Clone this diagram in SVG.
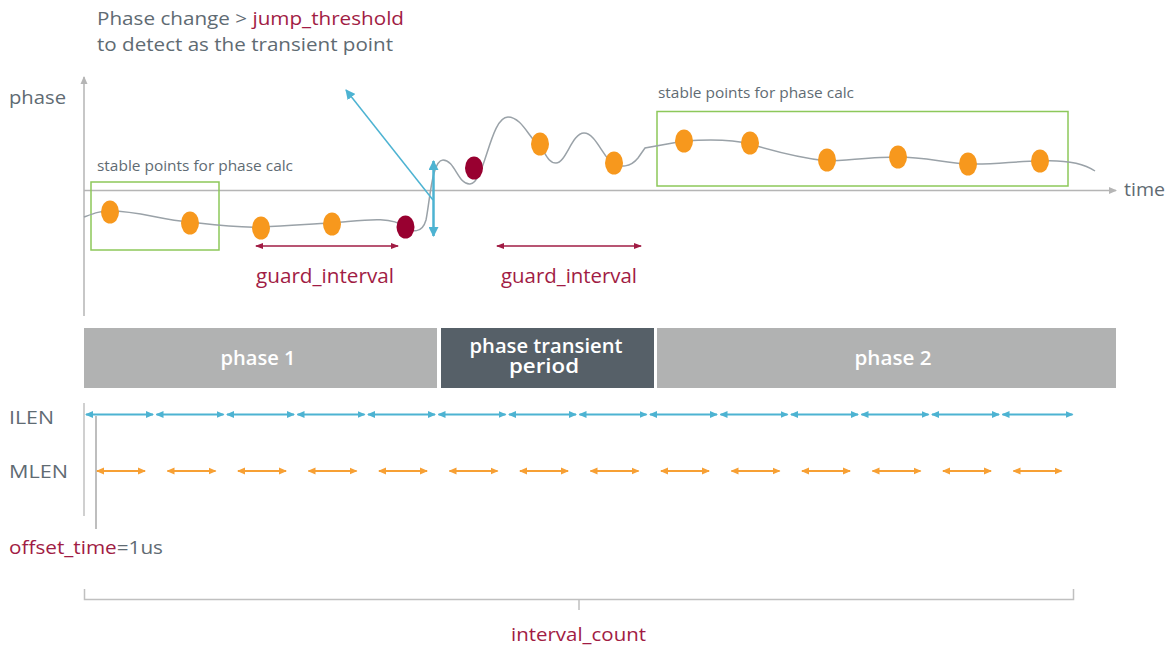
<svg xmlns="http://www.w3.org/2000/svg" width="1172" height="647" viewBox="0 0 1172 647">
<style>
text{font-family:"Open Sans",Lato,"Noto Sans","DejaVu Sans",sans-serif;}
.g{fill:#5f6b73;}
.r{fill:#a11c44;}
.bar{font-weight:600;fill:#fff;font-size:19px;text-anchor:middle;}
.ax{stroke:#b5b5b5;stroke-width:1.5;fill:none;}
.dot{fill:#f7981d;}
.dred{fill:#980030;}
.box{fill:none;stroke:#8dc85a;stroke-width:1.5;}
.il{stroke:#4db3d2;stroke-width:2;marker-start:url(#ac);marker-end:url(#ac);}
.ml{stroke:#f7a034;stroke-width:2;marker-start:url(#ao);marker-end:url(#ao);}
.gi{stroke:#a11c44;stroke-width:1.5;marker-start:url(#ar);marker-end:url(#ar);}
</style>
<defs>
<marker id="ag" markerWidth="8" markerHeight="8" refX="7" refY="4" orient="auto" markerUnits="userSpaceOnUse"><path d="M0,0.5 L8,4 L0,7.5 Z" fill="#b5b5b5"/></marker>
<marker id="ac" markerWidth="8" markerHeight="8" refX="7" refY="4" orient="auto-start-reverse" markerUnits="userSpaceOnUse"><path d="M0,0.5 L8,4 L0,7.5 Z" fill="#4db3d2"/></marker>
<marker id="acb" markerWidth="10" markerHeight="10" refX="9" refY="5" orient="auto-start-reverse" markerUnits="userSpaceOnUse"><path d="M0,0 L10,5 L0,10 Z" fill="#4db3d2"/></marker>
<marker id="ao" markerWidth="8" markerHeight="8" refX="7" refY="4" orient="auto-start-reverse" markerUnits="userSpaceOnUse"><path d="M0,0.5 L8,4 L0,7.5 Z" fill="#f7a034"/></marker>
<marker id="ar" markerWidth="8" markerHeight="8" refX="7" refY="4" orient="auto-start-reverse" markerUnits="userSpaceOnUse"><path d="M0,1 L8,4 L0,7 Z" fill="#a11c44"/></marker>
</defs>

<g id="title">
<text x="97" y="25" font-size="19" class="g" textLength="307" lengthAdjust="spacingAndGlyphs">Phase change &gt; <tspan class="r">jump_threshold</tspan></text>
<text x="97" y="51" font-size="19" class="g" textLength="296" lengthAdjust="spacingAndGlyphs">to detect as the transient point</text>
</g>

<g id="axes">
<line class="ax" x1="84" y1="316" x2="84" y2="77" marker-end="url(#ag)"/>
<line class="ax" x1="84" y1="190.5" x2="1116" y2="190.5" marker-end="url(#ag)"/>
<text x="9" y="104" font-size="18" class="g" textLength="57" lengthAdjust="spacingAndGlyphs">phase</text>
<text x="1124" y="196" font-size="18" class="g" textLength="41" lengthAdjust="spacingAndGlyphs">time</text>
</g>

<g id="stable-left">
<rect class="box" x="91" y="182" width="128" height="68"/>
<text x="97" y="171" font-size="14" class="g" textLength="196" lengthAdjust="spacingAndGlyphs">stable points for phase calc</text>
</g>
<g id="stable-right">
<rect class="box" x="657" y="111.5" width="411" height="74.5"/>
<text x="658" y="98" font-size="14" class="g" textLength="196" lengthAdjust="spacingAndGlyphs">stable points for phase calc</text>
</g>

<g id="curve">
<path fill="none" stroke="#9aa2a8" stroke-width="1.5" d="M84,217 C95,213 100,211 110,211 C140,211 160,220 190,222 C215,225 235,228 261,227 C290,226 310,224 332,223 C360,221 390,215 405,227 C412,232 422,234 426,220 C430,200 432,160 443,160 C455,160 458,185 470,184 C485,183 490,117 508,117 C522,117 530,140 540,146 C545,152 548,163 556,163 C566,163 572,133 584,133 C596,133 604,160 614,164 C620,167 630,168 638,158 L645,148 L684,141 C710,139 735,140 750,144 C770,150 800,158 827,161 C850,160 875,157 898,157 C925,157 945,163 968,164 C995,165 1015,161 1040,161 C1060,160 1080,161 1095,171"/>
</g>

<g id="dots">
<ellipse class="dot" cx="110" cy="212" rx="9" ry="11.5"/>
<ellipse class="dot" cx="190" cy="223" rx="9" ry="11.5"/>
<ellipse class="dot" cx="261" cy="228" rx="9" ry="11.5"/>
<ellipse class="dot" cx="332" cy="224" rx="9" ry="11.5"/>
<ellipse class="dred" cx="405.5" cy="227" rx="9" ry="11.5"/>
<ellipse class="dred" cx="474" cy="168" rx="9" ry="11.5"/>
<ellipse class="dot" cx="540" cy="144" rx="9" ry="11.5"/>
<ellipse class="dot" cx="614" cy="163" rx="9" ry="11.5"/>
<ellipse class="dot" cx="684" cy="141" rx="9" ry="11.5"/>
<ellipse class="dot" cx="750" cy="143" rx="9" ry="11.5"/>
<ellipse class="dot" cx="827" cy="160" rx="9" ry="11.5"/>
<ellipse class="dot" cx="898" cy="157" rx="9" ry="11.5"/>
<ellipse class="dot" cx="968" cy="164" rx="9" ry="11.5"/>
<ellipse class="dot" cx="1040" cy="161" rx="9" ry="11.5"/>
</g>

<g id="jump">
<line x1="433" y1="200" x2="346" y2="90" stroke="#4db3d2" stroke-width="1.5" marker-end="url(#acb)"/>
<line x1="433.5" y1="236" x2="433.5" y2="161" stroke="#4db3d2" stroke-width="2.5" marker-start="url(#acb)" marker-end="url(#acb)"/>
</g>

<g id="guard">
<line class="gi" x1="256" y1="246" x2="398" y2="246"/>
<text x="256" y="283" font-size="20" class="r" textLength="138" lengthAdjust="spacingAndGlyphs">guard_interval</text>
<line class="gi" x1="497" y1="246" x2="641" y2="246"/>
<text x="501" y="283" font-size="20" class="r" textLength="136" lengthAdjust="spacingAndGlyphs">guard_interval</text>
</g>

<g id="phase1"><rect x="84" y="328" width="353" height="60" fill="#b1b2b2"/><text class="bar" x="258" y="365" textLength="75" lengthAdjust="spacingAndGlyphs">phase 1</text></g>
<g id="transient"><rect x="441" y="328" width="213" height="60" fill="#566068"/><text class="bar" x="546" y="353" font-size="18" textLength="153" lengthAdjust="spacingAndGlyphs">phase transient</text><text class="bar" x="544" y="373" font-size="18" textLength="70" lengthAdjust="spacingAndGlyphs">period</text></g>
<g id="phase2"><rect x="657" y="328" width="459" height="60" fill="#b1b2b2"/><text class="bar" x="893" y="365" textLength="77" lengthAdjust="spacingAndGlyphs">phase 2</text></g>

<g id="labels">
<text x="9" y="424" font-size="18" class="g" textLength="45" lengthAdjust="spacingAndGlyphs">ILEN</text>
<text x="9" y="478" font-size="18" class="g" textLength="59" lengthAdjust="spacingAndGlyphs">MLEN</text>
<text x="9" y="554" font-size="18" textLength="154" lengthAdjust="spacingAndGlyphs"><tspan class="r">offset_time</tspan><tspan class="g">=1us</tspan></text>
<text x="511" y="641" font-size="18" class="r" textLength="135" lengthAdjust="spacingAndGlyphs">interval_count</text>
</g>

<g id="connectors">
<line x1="84" y1="403" x2="84" y2="516" stroke="#c0c0c0" stroke-width="1.5"/>
<line x1="96" y1="416" x2="96" y2="529" stroke="#a8a8a8" stroke-width="1.5"/>
<line class="il" x1="86" y1="414.5" x2="153" y2="414.5"/>
<line class="il" x1="156.5" y1="414.5" x2="223.5" y2="414.5"/>
<line class="il" x1="227" y1="414.5" x2="294" y2="414.5"/>
<line class="il" x1="297.5" y1="414.5" x2="364.5" y2="414.5"/>
<line class="il" x1="368" y1="414.5" x2="435" y2="414.5"/>
<line class="il" x1="438.5" y1="414.5" x2="505.5" y2="414.5"/>
<line class="il" x1="509" y1="414.5" x2="576" y2="414.5"/>
<line class="il" x1="579.5" y1="414.5" x2="646.5" y2="414.5"/>
<line class="il" x1="650" y1="414.5" x2="717" y2="414.5"/>
<line class="il" x1="720.5" y1="414.5" x2="787.5" y2="414.5"/>
<line class="il" x1="791" y1="414.5" x2="858" y2="414.5"/>
<line class="il" x1="861.5" y1="414.5" x2="928.5" y2="414.5"/>
<line class="il" x1="932" y1="414.5" x2="999" y2="414.5"/>
<line class="il" x1="1002.5" y1="414.5" x2="1072.5" y2="414.5"/>
<line class="ml" x1="97" y1="471" x2="145" y2="471"/>
<line class="ml" x1="167.5" y1="471" x2="215.5" y2="471"/>
<line class="ml" x1="238" y1="471" x2="286" y2="471"/>
<line class="ml" x1="308.5" y1="471" x2="356.5" y2="471"/>
<line class="ml" x1="379" y1="471" x2="427" y2="471"/>
<line class="ml" x1="449.5" y1="471" x2="497.5" y2="471"/>
<line class="ml" x1="520" y1="471" x2="568" y2="471"/>
<line class="ml" x1="590.5" y1="471" x2="638.5" y2="471"/>
<line class="ml" x1="661" y1="471" x2="709" y2="471"/>
<line class="ml" x1="731.5" y1="471" x2="779.5" y2="471"/>
<line class="ml" x1="802" y1="471" x2="850" y2="471"/>
<line class="ml" x1="872.5" y1="471" x2="920.5" y2="471"/>
<line class="ml" x1="943" y1="471" x2="991" y2="471"/>
<line class="ml" x1="1013.5" y1="471" x2="1061.5" y2="471"/>
<path d="M84.5,589 V599.5 H1073.5 V589 M579,599.5 V610" fill="none" stroke="#c0c0c0" stroke-width="1.5"/>
</g>
</svg>
